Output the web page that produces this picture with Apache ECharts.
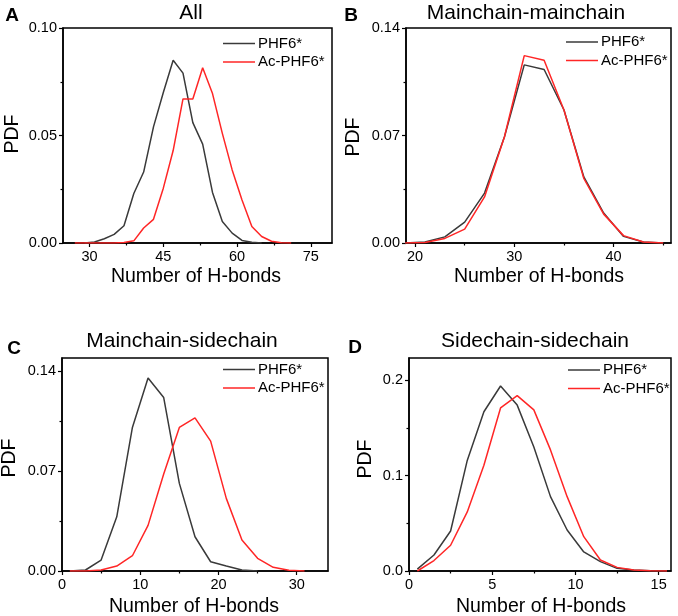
<!DOCTYPE html>
<html>
<head>
<meta charset="utf-8">
<script src="https://cdn.jsdelivr.net/npm/echarts@6.0.0/dist/echarts.min.js"></script>
<style>html,body{margin:0;padding:0;background:#fff}#c{width:678px;height:616px}</style>
</head>
<body>
<div id="c"></div>
<script>
// ---- data ----
const seriesNames = ['PHF6*', 'Ac-PHF6*'];
const titles = ['All', 'Mainchain-mainchain', 'Mainchain-sidechain', 'Sidechain-sidechain'];
const letters = ['A', 'B', 'C', 'D'];
const xAxisName = 'Number of H-bonds';
const yAxisName = 'PDF';

// Panel A: All
const allX     = [27,29,31,33,35,37,39,41,43,45,47,49,51,53,55,57,59,61,63,65,67,69,71];
const allPHF6  = [null,0,0.0005,0.002,0.004,0.008,0.023,0.033,0.054,0.070,0.085,0.079,0.056,0.046,0.0235,0.010,0.0046,0.0012,0.0003,0,null,null,null];
const allAc    = [0,0,0,0,0,0.0002,0.001,0.007,0.011,0.0255,0.043,0.067,0.067,0.0815,0.0695,0.051,0.034,0.020,0.0077,0.003,0.0008,0.0001,0];
const allXTicks = [30,45,60,75];
const allXMinor = [37.5,52.5,67.5];
const allYTicks = [0,0.05,0.10];
const allYMinor = [0.025,0.075];

// Panel B: Mainchain-mainchain
const mmX    = [19,21,23,25,27,29,31,33,35,37,39,41,43,45];
const mmPHF6 = [0,0.0006,0.004,0.0136,0.0325,0.069,0.116,0.113,0.0866,0.043,0.0195,0.0043,0.0006,0];
const mmAc   = [0,0.0003,0.003,0.009,0.030,0.069,0.122,0.119,0.0866,0.042,0.0188,0.0048,0.0006,0];
const mmXTicks = [20,30,40];
const mmXMinor = [25,35,45];
const mmYTicks = [0,0.07,0.14];
const mmYMinor = [0.035,0.105];

// Panel C: Mainchain-sidechain
const msX    = [1,3,5,7,9,11,13,15,17,19,21,23,25,27,29,31];
const msPHF6 = [0,0.0007,0.0077,0.038,0.1006,0.1353,0.1216,0.0614,0.024,0.0065,0.0035,0.0007,0,null,null,null];
const msAc   = [0,0,0.0007,0.0035,0.0107,0.032,0.068,0.1006,0.1073,0.091,0.0509,0.0217,0.0089,0.0026,0.0005,0];
const msXTicks = [0,10,20,30];
const msXMinor = [5,15,25];
const msYTicks = [0,0.07,0.14];
const msYMinor = [0.035,0.105];

// Panel D: Sidechain-sidechain
const ssX    = [0.5,1.5,2.5,3.5,4.5,5.5,6.5,7.5,8.5,9.5,10.5,11.5,12.5,13.5,14.5,15.5];
const ssPHF6 = [0.002,0.0168,0.042,0.116,0.167,0.194,0.174,0.130,0.078,0.043,0.020,0.0098,0.0028,0.001,0.0002,0];
const ssAc   = [0,0.011,0.027,0.062,0.111,0.171,0.184,0.169,0.127,0.078,0.036,0.0115,0.0038,0.001,0.0002,0];
const ssXTicks = [0,5,10,15];
const ssXMinor = [2.5,7.5,12.5];
const ssYTicks = [0,0.1,0.2];
const ssYMinor = [0.05,0.15];

// ---- layout / style ----
const FONT = '"Liberation Sans", Arial, Helvetica, sans-serif';
const BLACK = '#3a3a3a';
const RED = '#ff2626';

const panels = [
  {grid:{left:63,top:28,width:269,height:215}, xr:[24.6,79.3], ymax:0.10, dig:2,
   xs:allX, a:allPHF6, b:allAc, xt:allXTicks, xm:allXMinor, yt:allYTicks, ym:allYMinor,
   leg:{left:223,top:36}, title:[191,13], letter:[12,16], xname:[196,277], yname:[13,134]},
  {grid:{left:406,top:28,width:265,height:215}, xr:[19.09,45.78], ymax:0.14, dig:2,
   xs:mmX, a:mmPHF6, b:mmAc, xt:mmXTicks, xm:mmXMinor, yt:mmYTicks, ym:mmYMinor,
   leg:{left:566,top:34.5}, title:[526,13], letter:[351,16], xname:[539,277], yname:[354,137]},
  {grid:{left:62,top:358,width:266,height:213}, xr:[0,34], ymax:0.1493, dig:2,
   xs:msX, a:msPHF6, b:msAc, xt:msXTicks, xm:msXMinor, yt:msYTicks, ym:msYMinor,
   leg:{left:223,top:362}, title:[182,341], letter:[14,349], xname:[194,607], yname:[10,458]},
  {grid:{left:409,top:358,width:262,height:213}, xr:[0,15.74], ymax:0.2234, dig:1,
   xs:ssX, a:ssPHF6, b:ssAc, xt:ssXTicks, xm:ssXMinor, yt:ssYTicks, ym:ssYMinor,
   leg:{left:568,top:362.5}, title:[535,341], letter:[355,348], xname:[541,607], yname:[366,459]}
];

const grid = [], xAxis = [], yAxis = [], series = [], legend = [], graphic = [];
panels.forEach((p, i) => {
  grid.push(Object.assign({show:true, borderColor:'#000', borderWidth:1.5, backgroundColor:'transparent'}, p.grid));
  xAxis.push({type:'value', gridIndex:i, position:'bottom', min:p.xr[0], max:p.xr[1],
    axisLine:{show:true, lineStyle:{color:'#000', width:1.5}},
    axisTick:{show:true, inside:false, length:4, customValues:p.xt, lineStyle:{color:'#000', width:1.2}},
    axisLabel:{show:true, customValues:p.xt, margin:6, fontSize:14.5, color:'#000', fontFamily:FONT},
    splitLine:{show:false}});
  xAxis.push({type:'value', gridIndex:i, position:'bottom', offset:0, min:p.xr[0], max:p.xr[1],
    axisLine:{show:false},
    axisTick:{show:true, inside:false, length:2.5, customValues:p.xm, lineStyle:{color:'#000', width:1.2}},
    axisLabel:{show:false}, splitLine:{show:false}});
  yAxis.push({type:'value', gridIndex:i, position:'left', min:0, max:p.ymax,
    axisLine:{show:true, lineStyle:{color:'#000', width:1.5}},
    axisTick:{show:true, inside:false, length:4, customValues:p.yt, lineStyle:{color:'#000', width:1.2}},
    axisLabel:{show:true, customValues:p.yt, margin:6, fontSize:14.5, color:'#000', fontFamily:FONT,
      formatter: (v) => Number(v).toFixed(p.dig)},
    splitLine:{show:false}});
  yAxis.push({type:'value', gridIndex:i, position:'left', offset:0, min:0, max:p.ymax,
    axisLine:{show:false},
    axisTick:{show:true, inside:false, length:2.5, customValues:p.ym, lineStyle:{color:'#000', width:1.2}},
    axisLabel:{show:false}, splitLine:{show:false}});
  [[seriesNames[0], p.a, BLACK], [seriesNames[1], p.b, RED]].forEach(([name, ys, col]) => {
    series.push({type:'line', name, xAxisIndex:2*i, yAxisIndex:2*i,
      data: p.xs.map((x, k) => [x, ys[k]]), symbol:'none', showSymbol:false,
      connectNulls:false, color:col, itemStyle:{color:col}, lineStyle:{color:col, width:1.5}, clip:true, silent:true});
  });
  legend.push({data:seriesNames.map(n => ({name:n, icon:'rect'})), orient:'vertical', left:p.leg.left, top:p.leg.top,
    padding:0, itemWidth:32, itemHeight:1.5, itemGap:3.5, selectedMode:false,
    textStyle:{fontSize:15, color:'#000', fontFamily:FONT, padding:[0,0,0,-2]}});
  graphic.push({type:'text', x:p.title[0], y:p.title[1],
    style:{text:titles[i], font:'21px ' + FONT, fill:'#000', align:'center', verticalAlign:'middle'}});
  graphic.push({type:'text', x:p.letter[0], y:p.letter[1],
    style:{text:letters[i], font:'bold 19px ' + FONT, fill:'#000', align:'center', verticalAlign:'middle'}});
  graphic.push({type:'text', x:p.xname[0], y:p.xname[1],
    style:{text:xAxisName, font:'19.5px ' + FONT, fill:'#000', align:'center', verticalAlign:'middle'}});
  graphic.push({type:'text', x:p.yname[0], y:p.yname[1], rotation:Math.PI/2,
    style:{text:yAxisName, font:'19.5px ' + FONT, fill:'#000', align:'center', verticalAlign:'middle'}});
});

const chart = echarts.init(document.getElementById('c'), null, {renderer:'canvas'});
chart.setOption({animation:false, backgroundColor:'#fff', grid, xAxis, yAxis, series, legend, graphic});
</script>
</body>
</html>
